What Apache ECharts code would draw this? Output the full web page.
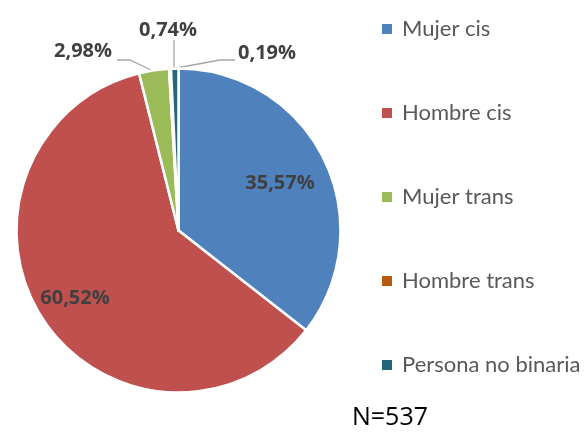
<!DOCTYPE html>
<html><head><meta charset="utf-8">
<script src="https://cdn.jsdelivr.net/npm/echarts@6/dist/echarts.min.js"></script>
<style>html,body{margin:0;padding:0;background:#fff}#c{width:586px;height:436px}</style>
</head><body><div id="c"></div>
<script>
const categories = ['Mujer cis', 'Hombre cis', 'Mujer trans', 'Hombre trans', 'Persona no binaria'];
const values = [35.57, 60.52, 2.98, 0.19, 0.74];
const colors = ['#4F81BD', '#C0504D', '#9BBB59', '#B85A0D', '#236878'];
const labelPos = [[280, 183], [75, 298], [83, 51], [267, 53], [168, 30]];
const leaderLines = [null, null, [[153, 71], [130, 60], [117, 60]], [[171, 69], [220, 60], [235, 60]], [[174, 68], [174, 50], [174, 40]]];
const totalN = 537;

const chart = echarts.init(document.getElementById('c'));
const fmt = v => v.toFixed(2).replace('.', ',') + '%';
chart.setOption({
  animation: false,
  legend: {
    orient: 'vertical', left: 375, top: 12,
    itemWidth: 12, itemHeight: 12, itemGap: 60,
    icon: 'rect',
    textStyle: { fontFamily: 'Lato', fontSize: 22, color: '#595959', lineHeight: 24, padding: [0, 0, 0, 4] },
    data: categories
  },
  graphic: [{ type: 'text', left: 352, top: 405, style: { text: 'N=' + totalN, font: '25px "Open Sans"', fill: '#000' } }],
  series: [{
    type: 'pie',
    center: [178.5, 230.5],
    radius: 162,
    startAngle: 90,
    clockwise: true,
    itemStyle: { borderColor: '#fff', borderWidth: 2.5 },
    label: { show: true, overflow: 'none', formatter: p => fmt(p.value), fontFamily: 'Open Sans', fontWeight: 'bold', fontSize: 20, color: '#404040' },
    labelLine: { show: true, lineStyle: { color: '#A6A6A6', width: 1.3 } },
    labelLayout: p => {
      const r = { x: labelPos[p.dataIndex][0], y: labelPos[p.dataIndex][1], align: 'center', verticalAlign: 'middle' };
      if (leaderLines[p.dataIndex]) r.labelLinePoints = leaderLines[p.dataIndex];
      return r;
    },
    data: categories.map((c, i) => ({
      name: c, value: values[i], itemStyle: { color: colors[i] },
      label: { position: i < 2 ? 'inside' : 'outside' },
      labelLine: { show: i >= 2 }
    }))
  }]
});
</script></body></html>
